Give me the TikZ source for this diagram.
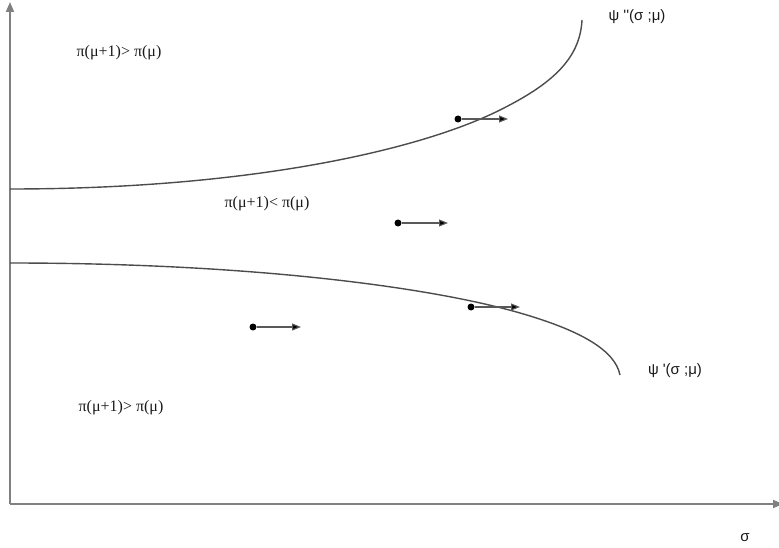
\documentclass[tikz,border=0pt]{standalone}
\usepackage{fontspec}
\setmainfont{Liberation Serif}
\newfontfamily\arialfont{Liberation Sans}
\usetikzlibrary{arrows.meta}
\tikzset{
  axisline/.style={draw=black!50, line width=1.8pt},
  curveline/.style={draw=black!70, line width=1.4pt},
  dotnode/.style={circle, fill=black, inner sep=0pt, minimum size=7pt},
  movearrow/.style={draw=black!65, line width=1.1pt, -{Triangle[length=9pt,width=7pt,fill=black]}},
  pilabel/.style={font=\fontsize{16}{18}\selectfont, text=black!90, inner sep=0pt},
  psilabel/.style={font=\arialfont\fontsize{15}{17}\selectfont, text=black!90, inner sep=0pt}
}
\begin{document}
\begin{tikzpicture}[x=1pt,y=-1pt]
\useasboundingbox (0,0) rectangle (779,548);
% axes
\coordinate (O) at (10,504);
\coordinate (ytop) at (10,2);
\coordinate (xend) at (783,504);
\draw[axisline, -{Triangle[length=10pt,width=8pt]}] (O) -- (ytop);
\draw[axisline, -{Triangle[length=10pt,width=8pt]}] (O) -- (xend);
% curves
\draw[curveline] (10,189) .. controls (250,189) and (420,150) .. (500,110) .. controls (550,85) and (580,60) .. (582,20);
\draw[curveline] (10,263) .. controls (250,263) and (430,287) .. (520,313) .. controls (580,330.3) and (615,350) .. (620,375);
% arrows
\node[dotnode] (d1) at (458,119) {};
\coordinate (e1) at (508,119);
\draw[movearrow] (d1) -- (e1);
\node[dotnode] (d2) at (398,223) {};
\coordinate (e2) at (448,223);
\draw[movearrow] (d2) -- (e2);
\node[dotnode] (d3) at (471,307) {};
\coordinate (e3) at (520,307);
\draw[movearrow] (d3) -- (e3);
\node[dotnode] (d4) at (253,327) {};
\coordinate (e4) at (301,327);
\draw[movearrow] (d4) -- (e4);
% labels
\node[pilabel] (l1) at (119,53) {π(μ+1)> π(μ)};
\node[pilabel] (l2) at (267,204) {π(μ+1)< π(μ)};
\node[pilabel] (l3) at (121,408) {π(μ+1)> π(μ)};
\node[psilabel] (p1) at (637,17) {ψ ''(σ ;μ)};
\node[psilabel] (p2) at (675,371) {ψ '(σ ;μ)};
\node[psilabel] (s) at (745,538) {σ};
\end{tikzpicture}
\end{document}
